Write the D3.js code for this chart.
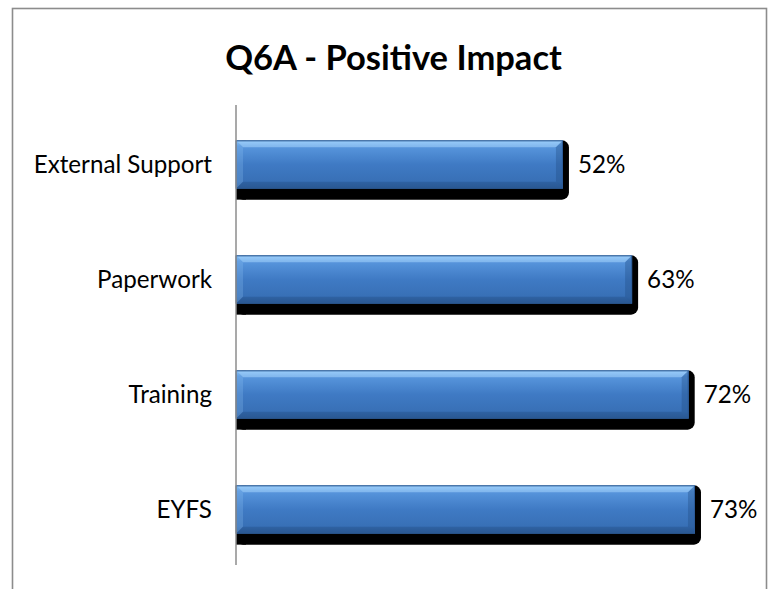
<!DOCTYPE html>
<html>
<head>
<meta charset="utf-8">
<script src="https://cdn.jsdelivr.net/npm/d3@7"></script>
<style>
  html, body { margin: 0; padding: 0; background: #fff; }
  svg { display: block; }
  text { font-family: Lato, "Open Sans", sans-serif; fill: #000; }
</style>
</head>
<body>
<svg id="chart" width="774" height="589"></svg>
<script>
const title = "Q6A - Positive Impact";
const categories = ["External Support", "Paperwork", "Training", "EYFS"];
const values = [0.52, 0.63, 0.72, 0.73];
const valueLabels = ["52%", "63%", "72%", "73%"];

const W = 774, H = 589;
const svg = d3.select("#chart");

// chart border
svg.append("rect")
  .attr("x", 12.5).attr("y", 8.5)
  .attr("width", 754).attr("height", H + 20)
  .attr("fill", "#fff").attr("stroke", "#8c8c8c").attr("stroke-width", 1.6);

const plotLeft = 236;
const x = d3.scaleLinear().domain([0, 0.8]).range([plotLeft, plotLeft + 503]);
const y = d3.scaleBand().domain(categories).range([107, 567]).paddingInner(0.58).paddingOuter(0.29);

// gradients
const defs = svg.append("defs");
const g = defs.append("linearGradient").attr("id", "barGrad")
  .attr("x1", 0).attr("y1", 0).attr("x2", 0).attr("y2", 1);
[[0, "#86c0f5"], [0.12, "#5896dd"], [0.5, "#3f7ac4"], [0.85, "#3870b6"], [1, "#2f5e9a"]]
  .forEach(([o, c]) => g.append("stop").attr("offset", o).attr("stop-color", c));

const data = categories.map((c, i) => ({ cat: c, v: values[i], label: valueLabels[i] }));
const bev = 7;

const bars = svg.append("g").selectAll("g").data(data).join("g");

// shadow
bars.append("rect")
  .attr("x", plotLeft)
  .attr("y", d => y(d.cat))
  .attr("width", d => x(d.v) - plotLeft + 6)
  .attr("height", y.bandwidth() + 11)
  .attr("rx", 7).attr("fill", "#000");
bars.append("rect")
  .attr("x", plotLeft)
  .attr("y", d => y(d.cat))
  .attr("width", 10)
  .attr("height", y.bandwidth() + 11)
  .attr("fill", "#000");

// face
bars.append("rect")
  .attr("x", plotLeft)
  .attr("y", d => y(d.cat))
  .attr("width", d => x(d.v) - plotLeft)
  .attr("height", y.bandwidth())
  .attr("fill", "url(#barGrad)");

// bevels
function poly(pts) { return pts.map(p => p.join(",")).join(" "); }
bars.append("polygon") // top
  .attr("points", d => { const x0 = plotLeft, x1 = x(d.v), y0 = y(d.cat);
    return poly([[x0, y0], [x1, y0], [x1 - bev, y0 + bev], [x0 + bev, y0 + bev]]); })
  .attr("fill", "#b0dcff").attr("fill-opacity", 0.5);
bars.append("polygon") // left
  .attr("points", d => { const x0 = plotLeft, y0 = y(d.cat), y1 = y0 + y.bandwidth();
    return poly([[x0, y0], [x0 + bev, y0 + bev], [x0 + bev, y1 - bev], [x0, y1]]); })
  .attr("fill", "#8ec4f5").attr("fill-opacity", 0.25);
bars.append("polygon") // right
  .attr("points", d => { const x1 = x(d.v), y0 = y(d.cat), y1 = y0 + y.bandwidth();
    return poly([[x1, y0], [x1 - bev, y0 + bev], [x1 - bev, y1 - bev], [x1, y1]]); })
  .attr("fill", "#1f4a80").attr("fill-opacity", 0.35);
bars.append("polygon") // bottom
  .attr("points", d => { const x0 = plotLeft, x1 = x(d.v), y1 = y(d.cat) + y.bandwidth();
    return poly([[x0, y1], [x1, y1], [x1 - bev, y1 - bev], [x0 + bev, y1 - bev]]); })
  .attr("fill", "#1f4a80").attr("fill-opacity", 0.35);
bars.append("rect")
  .attr("x", plotLeft)
  .attr("y", d => y(d.cat) + 0.5)
  .attr("width", d => x(d.v) - plotLeft - 0.5)
  .attr("height", y.bandwidth() - 1)
  .attr("fill", "none").attr("stroke", "#2d5b96").attr("stroke-width", 1);

// value labels
const labelSize = 24.2;
bars.append("text")
  .attr("x", d => x(d.v) + 15)
  .attr("y", d => y(d.cat) + y.bandwidth() / 2 + labelSize * 0.35)
  .attr("font-size", labelSize)
  .text(d => d.label);

// axis (category)
const axis = svg.append("g").attr("transform", `translate(${plotLeft},0)`)
  .call(d3.axisLeft(y).tickSize(0).tickPadding(24));
axis.select(".domain").attr("stroke", "#8c8c8c").attr("stroke-width", 1.5)
  .attr("d", `M0,105V565`);
axis.selectAll("text")
  .attr("font-size", labelSize)
  .attr("font-family", "Lato, 'Open Sans', sans-serif")
  .attr("fill", "#000")
  .attr("dy", null)
  .attr("y", labelSize * 0.35);

// title
svg.append("text")
  .attr("x", (12 + 767) / 2 + 4)
  .attr("y", 70)
  .attr("text-anchor", "middle")
  .attr("font-size", 34.5)
  .attr("font-weight", "bold")
  .text(title);
</script>
</body>
</html>
